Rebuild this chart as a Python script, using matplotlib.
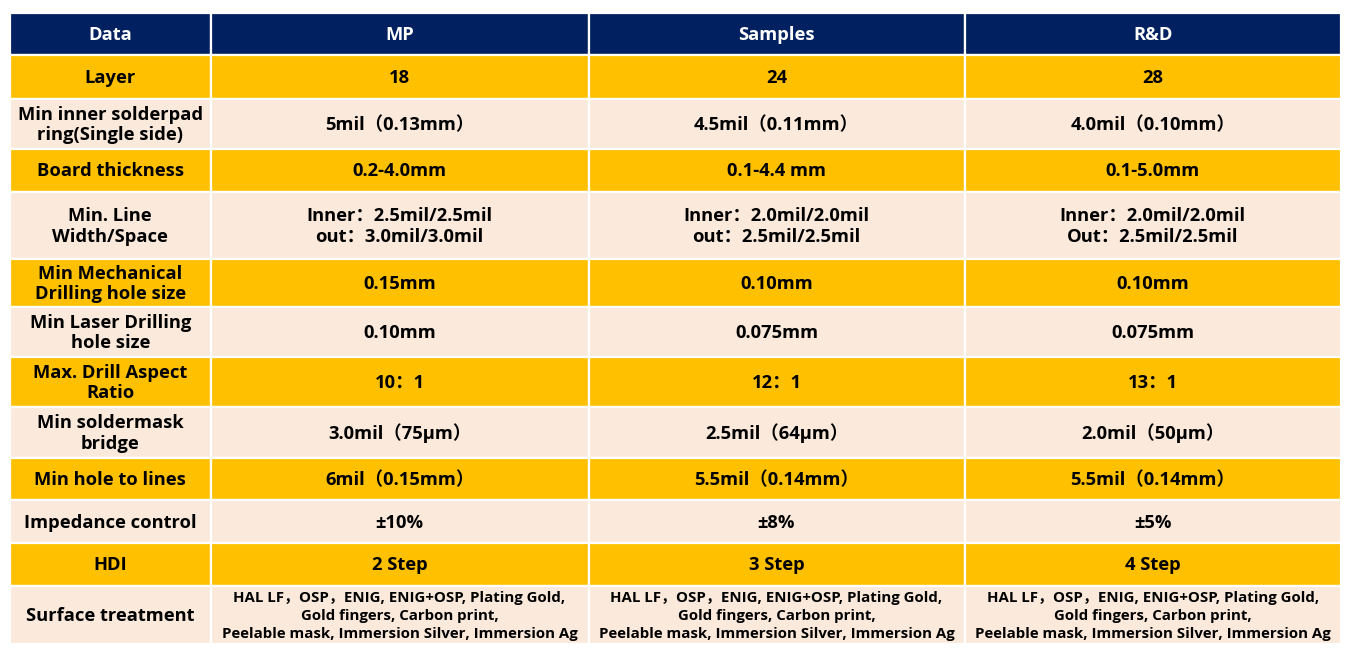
import matplotlib
matplotlib.use("Agg")
import matplotlib.pyplot as plt
from matplotlib.patches import Rectangle

plt.rcParams['font.family'] = ['Open Sans', 'Noto Sans CJK SC', 'DejaVu Sans']

# table content
columns = ["Data", "MP", "Samples", "R&D"]
row_names = [
    "Layer",
    "Min inner solderpad\nring(Single side)",
    "Board thickness",
    "Min. Line\nWidth/Space",
    "Min Mechanical\nDrilling hole size",
    "Min Laser Drilling\nhole size",
    "Max. Drill Aspect\nRatio",
    "Min soldermask\nbridge",
    "Min hole to lines",
    "Impedance control",
    "HDI",
    "Surface treatment",
]
surface = ("HAL LF，OSP，ENIG, ENIG+OSP, Plating Gold,\n"
           "Gold fingers, Carbon print,\n"
           "Peelable mask, Immersion Silver, Immersion Ag")
mp_vals = ["18", "5mil（0.13mm）", "0.2-4.0mm",
           "Inner：2.5mil/2.5mil\nout：3.0mil/3.0mil",
           "0.15mm", "0.10mm", "10：1", "3.0mil（75μm）",
           "6mil（0.15mm）", "±10%", "2 Step", surface]
samples_vals = ["24", "4.5mil（0.11mm）", "0.1-4.4 mm",
                "Inner：2.0mil/2.0mil\nout：2.5mil/2.5mil",
                "0.10mm", "0.075mm", "12：1", "2.5mil（64μm）",
                "5.5mil（0.14mm）", "±8%", "3 Step", surface]
rd_vals = ["28", "4.0mil（0.10mm）", "0.1-5.0mm",
           "Inner：2.0mil/2.0mil\nOut：2.5mil/2.5mil",
           "0.10mm", "0.075mm", "13：1", "2.0mil（50μm）",
           "5.5mil（0.14mm）", "±5%", "4 Step", surface]

# layout in pixels
W, H = 1352, 656
col_edges = [10, 210.5, 588.5, 964.5, 1341]
row_edges = [13, 55, 98.5, 148.5, 191.5, 258.5, 306.5, 356.5,
             406.5, 457.5, 499.5, 542.5, 585.5, 644]

NAVY = "#002060"
ORANGE = "#FFC000"
PEACH = "#FBE9DB"

fig = plt.figure(figsize=(W / 100, H / 100), dpi=100)
ax = fig.add_axes([0, 0, 1, 1])
ax.set_xlim(0, W)
ax.set_ylim(H, 0)
ax.axis("off")

table = [columns] + [[r, a, b, c] for r, a, b, c in
                     zip(row_names, mp_vals, samples_vals, rd_vals)]

for i, row in enumerate(table):
    y0, y1 = row_edges[i], row_edges[i + 1]
    if i == 0:
        fc, tc = NAVY, "white"
    elif i % 2 == 1:
        fc, tc = ORANGE, "black"
    else:
        fc, tc = PEACH, "black"
    for j, txt in enumerate(row):
        x0, x1 = col_edges[j], col_edges[j + 1]
        ax.add_patch(Rectangle((x0, y0), x1 - x0, y1 - y0, facecolor=fc,
                               edgecolor="white", linewidth=1.6))
        small = (i == len(table) - 1 and j > 0)
        ax.text((x0 + x1) / 2, (y0 + y1) / 2 + 1.5, txt, ha="center",
                va="center", color=tc, fontweight="bold",
                fontsize=10.85 if small else 13.2,
                linespacing=1.35 if small else 1.2)

fig.savefig("out.png", dpi=100)
